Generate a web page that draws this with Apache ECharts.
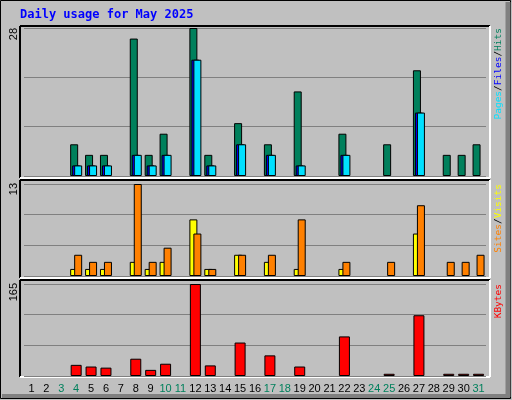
<!DOCTYPE html>
<html>
<head>
<meta charset="utf-8">
<script src="https://cdn.jsdelivr.net/npm/echarts@6/dist/echarts.min.js"></script>
<style>html,body{margin:0;padding:0;background:#c0c0c0;}</style>
</head>
<body>
<div id="chart" style="width:512px;height:400px;"></div>
<script>
// day numbers and weekend flags
var days = ['1','2','3','4','5','6','7','8','9','10','11','12','13','14','15','16','17','18','19','20','21','22','23','24','25','26','27','28','29','30','31'];
var weekend = [3,4,10,11,17,18,24,25,31];

var hits   = [0,0,0,6,4,4,0,26,4,8,0,28,4,0,10,0,6,0,16,0,0,8,0,0,6,0,20,0,4,4,6];
var files  = [0,0,0,2,2,2,0,4,2,4,0,22,2,0,6,0,4,0,2,0,0,4,0,0,0,0,12,0,0,0,0];
var pages  = [0,0,0,2,2,2,0,4,2,4,0,22,2,0,6,0,4,0,2,0,0,4,0,0,0,0,12,0,0,0,0];
var visits = [0,0,0,1,1,1,0,2,1,2,0,8,1,0,3,0,2,0,1,0,0,1,0,0,0,0,6,0,0,0,0];
var sites  = [0,0,0,3,2,2,0,13,2,4,0,6,1,0,3,0,3,0,8,0,0,2,0,0,2,0,10,0,2,2,3];
var kbytes = [0,0,0,20,17,15,0,31,11,22,0,165,19,0,60,0,37,0,17,0,0,71,0,0,4,0,109,0,4,4,4];

var maxTop = 28, maxMid = 13, maxBot = 165;

var chart = echarts.init(document.getElementById('chart'));
var font = 'Liberation Sans';
var grids = [
  {left: 24, right: 26, top: 28, height: 148},
  {left: 24, right: 26, top: 184, height: 92},
  {left: 24, right: 26, top: 284, height: 92}
];
function xAx(i, show) {
  return {
    type: 'category', gridIndex: i, data: days, boundaryGap: true,
    axisLine: {show: false}, axisTick: {show: false}, splitLine: {show: false},
    axisLabel: {
      show: show, margin: 7, fontFamily: font, fontSize: 11, interval: 0,
      color: function (v) { return weekend.indexOf(+v) >= 0 ? '#00805c' : '#000'; }
    }
  };
}
function yAx(i, max) {
  return {
    type: 'value', gridIndex: i, min: 0, max: max, interval: max / 3,
    axisLabel: {show: false}, axisLine: {show: false}, axisTick: {show: false},
    splitLine: {lineStyle: {color: '#808080', width: 1}}
  };
}
function bar(name, data, i, color, w, gap) {
  var s = {
    name: name, type: 'bar', xAxisIndex: i, yAxisIndex: i,
    data: data.map(function (v) { return v > 0 ? v : '-'; }),
    barWidth: w, itemStyle: {color: color, borderColor: '#000', borderWidth: 1},
    animation: false
  };
  if (gap) s.barGap = gap;
  return s;
}
function frame(x, y, w, h) {
  return [
    {type: 'line', shape: {x1: x, y1: y, x2: x + w, y2: y}, style: {stroke: '#000', lineWidth: 2}},
    {type: 'line', shape: {x1: x, y1: y, x2: x, y2: y + h}, style: {stroke: '#000', lineWidth: 2}},
    {type: 'line', shape: {x1: x, y1: y + h, x2: x + w, y2: y + h}, style: {stroke: '#fff', lineWidth: 2}},
    {type: 'line', shape: {x1: x + w, y1: y, x2: x + w, y2: y + h}, style: {stroke: '#fff', lineWidth: 2}}
  ];
}
function sideLabel(y, parts) {
  var rich = {}, txt = [];
  parts.forEach(function (p, k) {
    rich['p' + k] = {fill: p[1], fontFamily: 'DejaVu Sans Mono', fontSize: 9.5};
    txt.push('{p' + k + '|' + p[0] + '}');
  });
  return {
    type: 'text', x: 499, y: y, rotation: Math.PI / 2,
    style: {text: txt.join(''), rich: rich, align: 'right', verticalAlign: 'middle'}
  };
}
function maxLabel(y, v) {
  return {
    type: 'text', x: 14, y: y, rotation: Math.PI / 2,
    style: {text: String(v), fontFamily: font, fontSize: 11, fill: '#000', align: 'right', verticalAlign: 'middle'}
  };
}

var graphic = [
  {type: 'rect', shape: {x: 0.5, y: 0.5, width: 510, height: 398}, style: {fill: 'none', stroke: '#000', lineWidth: 1}},
  {type: 'line', shape: {x1: 508, y1: 2, x2: 508, y2: 397}, style: {stroke: '#808080', lineWidth: 5}},
  {type: 'line', shape: {x1: 2, y1: 396, x2: 510, y2: 396}, style: {stroke: '#808080', lineWidth: 4}},
  {type: 'text', x: 20, y: 15, style: {text: 'Daily usage for May 2025', fontFamily: 'DejaVu Sans Mono', fontWeight: 'bold', fontSize: 12, fill: '#0000ff', verticalAlign: 'middle'}},
  maxLabel(28, maxTop), maxLabel(183, maxMid), maxLabel(283, maxBot),
  sideLabel(28, [['Pages', '#00e0ff'], ['/', '#000'], ['Files', '#0000ff'], ['/', '#000'], ['Hits', '#00805c']]),
  sideLabel(184, [['Sites', '#ff8000'], ['/', '#000'], ['Visits', '#ffff00']]),
  sideLabel(284, [['KBytes', '#ff0000']])
].concat(frame(20, 26, 470, 152), frame(20, 180, 470, 98), frame(20, 280, 470, 97));

chart.setOption({
  backgroundColor: '#c0c0c0',
  animation: false,
  grid: grids,
  xAxis: [xAx(0, false), xAx(1, false), xAx(2, true)],
  yAxis: [yAx(0, maxTop), yAx(1, maxMid), yAx(2, maxBot)],
  series: [
    bar('Hits', hits, 0, '#00805c', 8),
    bar('Files', files, 0, '#0000ff', 8, '-75%'),
    bar('Pages', pages, 0, '#00e0ff', 8, '-75%'),
    bar('Visits', visits, 1, '#ffff00', 8),
    bar('Sites', sites, 1, '#ff8000', 8, '-50%'),
    bar('KBytes', kbytes, 2, '#ff0000', 11)
  ],
  graphic: graphic
});
</script>
</body>
</html>
